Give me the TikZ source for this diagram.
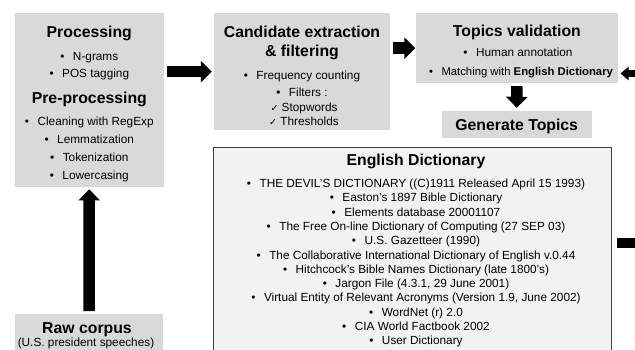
\documentclass[tikz,border=0pt]{standalone}
\usepackage{fontspec}
\setmainfont{Liberation Sans}
\newfontfamily\checkfont{DejaVu Sans}
\usepackage{tikz}
\usetikzlibrary{arrows.meta,calc}
\definecolor{boxgray}{rgb}{0.851, 0.851, 0.851}
\definecolor{dictgray}{rgb}{0.949, 0.949, 0.949}
\definecolor{dictline}{rgb}{0.25, 0.25, 0.25}
\tikzset{gbox/.style = {fill = boxgray, inner sep = 0}}
\tikzset{dbox/.style = {fill = dictgray, draw = dictline, line width = 1.5pt, inner sep = 0}}
\tikzset{ttl/.style = {anchor = base, inner sep = 0, font = \fontsize{15.8}{18}\selectfont\bfseries}}
\tikzset{itm/.style = {anchor = base, inner sep = 0, font = \fontsize{11.8}{14}\selectfont}}
\tikzset{blk/.style = {line width = 11.5pt, -{Triangle[length = 11pt, width = 21pt]}}}
\tikzset{thin blk/.style = {line width = 6.5pt, -{Triangle[length = 8pt, width = 13pt]}}}
\newcommand{\itembul}{•\hspace{8.5pt}}
\newcommand{\itemchk}{{\checkfont\fontsize{9.5}{9.5}\selectfont ✓}\ }

\begin{document}
\begin{tikzpicture}
      \useasboundingbox (0, 0) rectangle (635pt, -349pt);
      \clip (0, 0) rectangle (635pt, -349pt);
      % boxes
      \node [gbox, minimum width = 149.5pt, minimum height = 173.4pt] (proc) at (89.25pt, -100pt) {};
      \node [gbox, minimum width = 176pt, minimum height = 116.7pt] (cand) at (302pt, -71.65pt) {};
      \node [gbox, minimum width = 202.8pt, minimum height = 69.7pt] (topics) at (516.9pt, -48.15pt) {};
      \node [gbox, minimum width = 150pt, minimum height = 27pt] (gen) at (516.7pt, -124pt) {};
      \node [dbox, minimum width = 398pt, minimum height = 252.7pt] (dict) at (412.5pt, -273.65pt) {};
      \node [gbox, minimum width = 148pt, minimum height = 45.4pt] (raw) at (89pt, -337pt) {};
      % processing
      \node [ttl] (procT) at (89.3pt, -37.3pt) {Processing};
      \node [itm] (procA) at (89.3pt, -60pt) {\itembul N-grams};
      \node [itm] (procB) at (89.3pt, -77.6pt) {\itembul POS tagging};
      \node [ttl] (preT) at (89.3pt, -103.6pt) {Pre-processing};
      \node [itm] (preA) at (89.3pt, -125pt) {\itembul Cleaning with RegExp};
      \node [itm] (preB) at (89.3pt, -143pt) {\itembul Lemmatization};
      \node [itm] (preC) at (89.3pt, -161pt) {\itembul Tokenization};
      \node [itm] (preD) at (89.3pt, -179pt) {\itembul Lowercasing};
      % candidate extraction
      \node [ttl] (candT) at (302pt, -37.3pt) {Candidate extraction};
      \node [ttl] (candU) at (302pt, -56.3pt) {\& filtering};
      \node [itm] (candA) at (302pt, -79pt) {\itembul Frequency counting};
      \node [itm] (candB) at (302pt, -96.5pt) {\itembul Filters :};
      \node [itm] (candC) at (304pt, -111.5pt) {\itemchk Stopwords};
      \node [itm] (candD) at (304pt, -125.5pt) {\itemchk Thresholds};
      % topics validation
      \node [ttl] (topT) at (516.9pt, -36.5pt) {Topics validation};
      \node [itm] (topA) at (518pt, -56pt) {\itembul Human annotation};
      \node [itm, font = \fontsize{11.3}{14}\selectfont] (topB) at (521pt, -75pt) {\itembul Matching with \textbf{English Dictionary}};
      \node [ttl] (genT) at (516.7pt, -130.6pt) {Generate Topics};
      % english dictionary
      \node [ttl] (dictT) at (416pt, -165.3pt) {English Dictionary};
      \node [itm] (dictA) at (416pt, -187.5pt) {\itembul THE DEVIL'S DICTIONARY ((C)1911 Released April 15 1993)};
      \node [itm] (dictB) at (416pt, -201.8pt) {\itembul Easton's 1897 Bible Dictionary};
      \node [itm] (dictC) at (416pt, -216.1pt) {\itembul Elements database 20001107};
      \node [itm] (dictD) at (416pt, -230.4pt) {\itembul The Free On-line Dictionary of Computing (27 SEP 03)};
      \node [itm] (dictE) at (416pt, -244.7pt) {\itembul U.S. Gazetteer (1990)};
      \node [itm] (dictF) at (416pt, -259pt) {\itembul The Collaborative International Dictionary of English v.0.44};
      \node [itm] (dictG) at (416pt, -273.3pt) {\itembul Hitchcock's Bible Names Dictionary (late 1800's)};
      \node [itm] (dictH) at (416pt, -287.6pt) {\itembul Jargon File (4.3.1, 29 June 2001)};
      \node [itm] (dictI) at (416pt, -301.9pt) {\itembul Virtual Entity of Relevant Acronyms (Version 1.9, June 2002)};
      \node [itm] (dictJ) at (416pt, -316.2pt) {\itembul WordNet (r) 2.0};
      \node [itm] (dictK) at (416pt, -330.5pt) {\itembul CIA World Factbook 2002};
      \node [itm] (dictL) at (416pt, -344.8pt) {\itembul User Dictionary};
      % raw corpus
      \node [ttl] (rawT) at (87pt, -333pt) {Raw corpus};
      \node [itm] (rawA) at (86pt, -346pt) {(U.S. president speeches)};
      % arrows
      \coordinate (rin) at (660pt, -73.5pt);
      \coordinate (rout) at (660pt, -243.3pt);
      \draw [blk] ($(raw.north)+(0, 3pt)$) -- ($(proc.south)+(0, -2.5pt)$);
      \draw [blk] ($(proc.east |- cand.west)+(3pt, 0)$) -- ($(cand.west)+(-2pt, 0)$);
      \draw [blk] ($(cand.east |- topics.west)+(3pt, 0)$) -- (topics.west);
      \draw [blk] ($(topics.south)+(0, -3pt)$) -- ($(gen.north)+(0, 2.5pt)$);
      \draw [thin blk] (rin) -- ($(rin -| topics.east)+(2pt, 0)$);
      \draw [line width = 10pt] ($(rout -| dict.east)+(4.5pt, 0)$) -- (rout);
    \end{tikzpicture}
\end{document}
